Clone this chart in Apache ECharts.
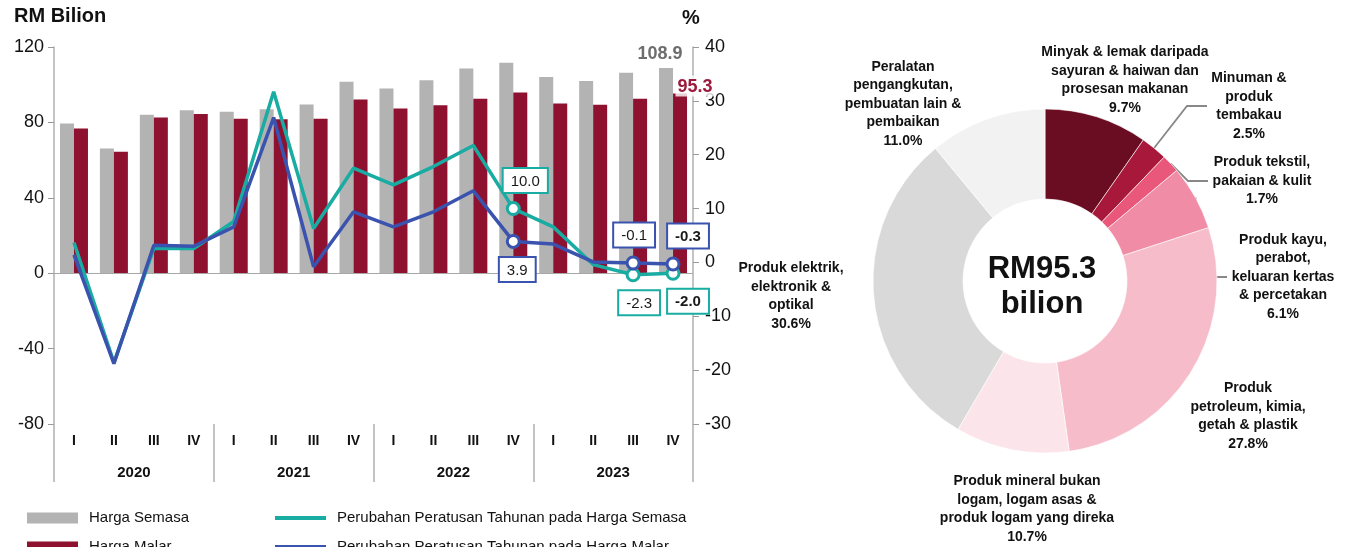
<!DOCTYPE html>
<html>
<head>
<meta charset="utf-8">
<script src="https://cdn.jsdelivr.net/npm/echarts@6/dist/echarts.min.js"></script>
<style>
html,body{margin:0;padding:0;background:#fff;}
#main{width:1358px;height:547px;}
</style>
</head>
<body>
<div id="main"></div>
<script>
// ---------- DATA ----------
const quarters = ['I','II','III','IV','I','II','III','IV','I','II','III','IV','I','II','III','IV'];
const years = ['2020','2021','2022','2023'];
const hargaSemasa = [79.4, 66.1, 84.0, 86.5, 85.6, 87.0, 89.5, 101.5, 98.0, 102.4, 108.6, 111.6, 104.1, 101.9, 106.3, 108.9];
const hargaMalar  = [76.7, 64.4, 82.6, 84.4, 81.9, 81.7, 81.9, 92.1, 87.4, 89.1, 92.5, 95.9, 90.0, 89.3, 92.5, 95.3];
const pctSemasa = [3.7, -18.6, 2.6, 2.6, 7.6, 31.7, 6.3, 17.5, 14.4, 17.8, 21.7, 10.0, 6.6, -0.4, -2.3, -2.0];
const pctMalar  = [1.4, -18.8, 3.2, 3.0, 6.6, 26.9, -0.8, 9.4, 6.6, 9.4, 13.3, 3.9, 3.4, 0.1, -0.1, -0.3];
const leftTicks = [-80, -40, 0, 40, 80, 120];
const rightTicks = [-30, -20, -10, 0, 10, 20, 30, 40];
const seriesNames = ['Harga Semasa', 'Harga Malar',
  'Perubahan Peratusan Tahunan pada Harga Semasa', 'Perubahan Peratusan Tahunan pada Harga Malar'];
const pieNames = [
  'Minyak & lemak daripada\nsayuran & haiwan dan\nprosesan makanan',
  'Minuman &\nproduk\ntembakau',
  'Produk tekstil,\npakaian & kulit',
  'Produk kayu,\nperabot,\nkeluaran kertas\n& percetakan',
  'Produk\npetroleum, kimia,\ngetah & plastik',
  'Produk mineral bukan\nlogam, logam asas &\nproduk logam yang direka',
  'Produk elektrik,\nelektronik &\noptikal',
  'Peralatan\npengangkutan,\npembuatan lain &\npembaikan'
];
const pieShares = [9.7, 2.5, 1.7, 6.1, 27.8, 10.7, 30.6, 11.0];
const pieTotal = 'RM95.3\nbilion';

// ---------- STYLE ----------
const FONT = '"Liberation Sans", Arial, sans-serif';
const pieColors = ['#6b0d22','#a8183a','#e9577a','#f08ca5','#f6bcca','#fce5ea','#d9d9d9','#f2f2f2'];
const pieLabelPos = [[1125,80],[1249,106],[1262,181],[1283,277],[1248,416],[1027,509],[791,296],[903,104]];
const pieLabelWidth = [240, 84, 108, 112, 240, 240, 240, 240];
const TEAL = '#19aca2', BLUE = '#3a53ae';

const lastIdx = hargaSemasa.length - 1;
const semasaBar = hargaSemasa.map((v,i)=> i===lastIdx ? {value:v, label:{show:true, position:'top', offset:[-6,0], color:'#6d6d6d', fontWeight:'bold', fontSize:18, fontFamily:FONT}} : v);
const malarBar = hargaMalar.map((v,i)=> i===lastIdx ? {value:v, label:{show:true, position:'top', offset:[15,8], color:'#9b1b3c', fontWeight:'bold', fontSize:18, fontFamily:FONT, backgroundColor:'rgba(255,255,255,0.8)', padding:[2,2,1,2]}} : v);

function boxLabel(color, pos, off, bold){
  return {show:true, position:pos, distance:9, offset:off, formatter:(p)=>p.value.toFixed(1),
    backgroundColor:'#fff', borderColor:color, borderWidth:2, padding:[5,7,3,7],
    color:'#1a1a1a', fontSize:15, fontWeight: bold?'bold':'normal', fontFamily:FONT};
}
const markSym = (color)=>({symbol:'circle', symbolSize:12, itemStyle:{color:'#fff', borderColor:color, borderWidth:3}});
const semasaLine = pctSemasa.map((v,i)=>{
  if(i===11) return Object.assign({value:v, label:boxLabel(TEAL,'top',[12,0],false)}, markSym(TEAL));
  if(i===14) return Object.assign({value:v, label:boxLabel(TEAL,'bottom',[6,0],false)}, markSym(TEAL));
  if(i===15) return Object.assign({value:v, label:boxLabel(TEAL,'bottom',[15,0],true)}, markSym(TEAL));
  return v;
});
const malarLine = pctMalar.map((v,i)=>{
  if(i===11) return Object.assign({value:v, label:boxLabel(BLUE,'bottom',[4,0],false)}, markSym(BLUE));
  if(i===14) return Object.assign({value:v, label:boxLabel(BLUE,'top',[1,0],false)}, markSym(BLUE));
  if(i===15) return Object.assign({value:v, label:boxLabel(BLUE,'top',[15,0],true)}, markSym(BLUE));
  return v;
});

const pieData = pieNames.map((n,i)=>({
  name:n, value:pieShares[i], itemStyle:{color:pieColors[i]},
  label:{width:pieLabelWidth[i]},
  labelLine:{show: i>=1 && i<=3}
}));

const legendText = {fontSize:15, color:'#111', lineHeight:16, padding:[0,0,0,6], fontFamily:FONT};
function legendAt(left, top, name, h){
  return {left:left, top:top, orient:'horizontal', itemWidth:51, itemHeight:h, icon:'rect',
    data:[name], textStyle:legendText};
}

const chart = echarts.init(document.getElementById('main'));
chart.setOption({
  animation:false,
  textStyle:{fontFamily:FONT},
  grid:{left:54, right:665, top:47, bottom:123},
  legend:[
    legendAt(22, 505, seriesNames[0], 11),
    legendAt(22, 534, seriesNames[1], 11),
    legendAt(270, 505, seriesNames[2], 4),
    legendAt(270, 534, seriesNames[3], 4)
  ],
  xAxis:[
    {type:'category', data:quarters, position:'bottom', axisLine:{show:false, onZero:false}, axisTick:{show:false},
     axisLabel:{interval:0, margin:10, fontWeight:'bold', fontSize:14, color:'#111', fontFamily:FONT}},
    {type:'category', data:years, position:'bottom', axisLine:{show:false, onZero:false},
     axisTick:{show:true, length:58, lineStyle:{color:'#b0b0b0', width:1.5}},
     axisLabel:{interval:0, margin:41, fontWeight:'bold', fontSize:15, color:'#111', fontFamily:FONT}}
  ],
  yAxis:[
    {type:'value', min:leftTicks[0], max:leftTicks[leftTicks.length-1], interval:40, position:'left',
     axisLine:{show:true, lineStyle:{color:'#b0b0b0', width:1.5}}, axisTick:{show:true, length:6, lineStyle:{color:'#999'}},
     splitLine:{show:false}, axisLabel:{fontSize:18, color:'#111', margin:10, fontFamily:FONT}},
    {type:'value', min:rightTicks[0], max:rightTicks[rightTicks.length-1], interval:10, position:'right',
     axisLine:{show:true, lineStyle:{color:'#b0b0b0', width:1.5}}, axisTick:{show:true, length:6, lineStyle:{color:'#999'}},
     splitLine:{show:false}, axisLabel:{fontSize:18, color:'#111', margin:12, fontFamily:FONT}}
  ],
  graphic:[
    {type:'text', left:14, top:6, style:{text:'RM Bilion', font:'bold 20px '+FONT, fill:'#111'}},
    {type:'text', left:682, top:8, style:{text:'%', font:'bold 20px '+FONT, fill:'#111'}},
    {type:'text', x:1042, y:287, style:{text:pieTotal, font:'bold 31px '+FONT, fill:'#111', align:'center', verticalAlign:'middle', lineHeight:35}}
  ],
  series:[
    {name:seriesNames[0], type:'bar', data:semasaBar, barWidth:14, barGap:'0%', itemStyle:{color:'#b3b3b3'},
     markLine:{silent:true, symbol:'none', label:{show:false}, lineStyle:{color:'#a8a8a8', type:'solid', width:1.2}, data:[{yAxis:0}]}},
    {name:seriesNames[1], type:'bar', data:malarBar, barWidth:14, barGap:'0%', itemStyle:{color:'#8e1230'}},
    {name:seriesNames[2], type:'line', yAxisIndex:1, data:semasaLine, symbol:'none',
     lineStyle:{color:TEAL, width:3.5}, itemStyle:{color:TEAL}, z:5},
    {name:seriesNames[3], type:'line', yAxisIndex:1, data:malarLine, symbol:'none',
     lineStyle:{color:BLUE, width:3.5}, itemStyle:{color:BLUE}, z:6},
    {type:'pie', center:[1045,281], radius:[82,172], startAngle:90, clockwise:true, data:pieData,
     itemStyle:{borderColor:'#fff', borderWidth:0.6},
     label:{show:true, position:'outside', formatter:(p)=>p.name+'\n'+p.value.toFixed(1)+'%',
       overflow:'none',
       fontSize:14, fontWeight:'bold', color:'#111', lineHeight:18.5, align:'center', fontFamily:FONT},
     labelLine:{show:false, length:12, length2:20, lineStyle:{color:'#888', width:1.8}},
     labelLayout:function(params){
       const p = pieLabelPos[params.dataIndex];
       return {x:p[0], y:p[1], align:'center', verticalAlign:'middle'};
     }}
  ]
});
</script>
</body>
</html>
